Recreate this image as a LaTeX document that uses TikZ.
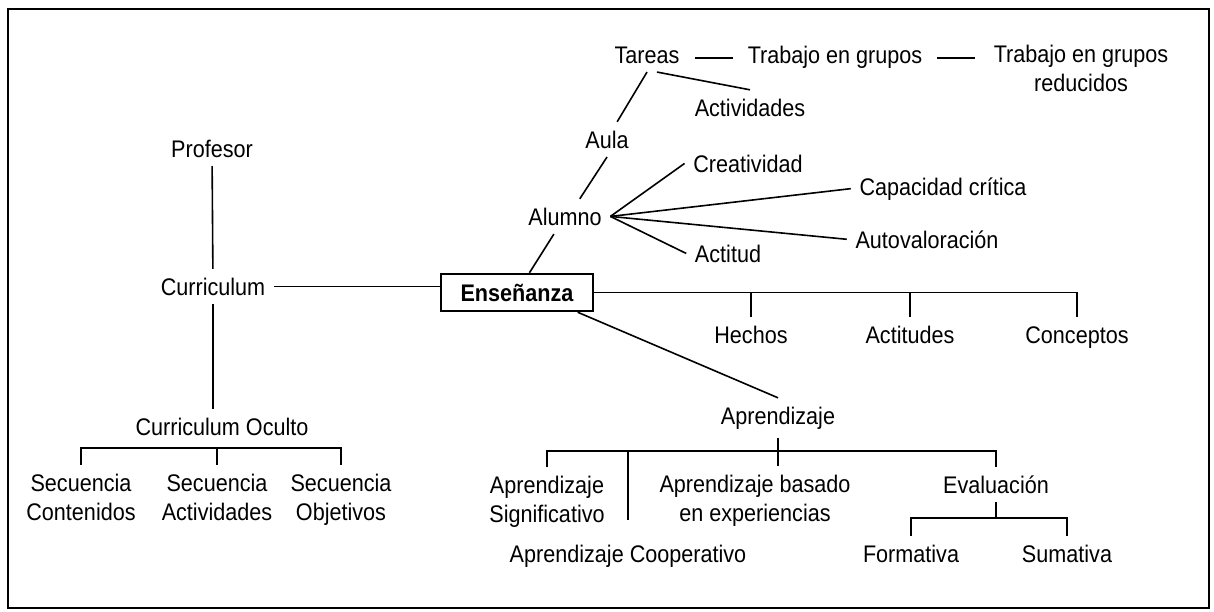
\documentclass[tikz,border=0pt]{standalone}
\usepackage{fontspec}
\setmainfont{Liberation Sans}[FakeStretch=0.9]
\newcommand{\mapfont}{\fontsize{12}{14.5}\selectfont}

\begin{document}
\begin{tikzpicture}[x=0.5pt, y=-0.5pt, line width=0.8pt,
    every node/.style={font=\mapfont, inner sep=4pt, align=center, anchor=base},
    box/.style={draw, line width=1.2pt, anchor=center, minimum width=76pt, minimum height=18.5pt, font=\mapfont\bfseries}]
        \useasboundingbox (0,0) rectangle (1214,611);
        \draw[line width=1pt] (8,9) rectangle (1209,608);

        \node (prof) at (212,157) {Profesor};
        \node (curr) at (213,295) {Curriculum};
        \node (oculto) at (222,435) {Curriculum Oculto};
        \node (seccont) at (81,520) {Secuencia\\Contenidos};
        \node (secact) at (217,520) {Secuencia\\Actividades};
        \node (secobj) at (341,520) {Secuencia\\Objetivos};

        \node[box] (ens) at (517,292.5) {Enseñanza};
        \node (alumno) at (565,225) {Alumno};
        \node (aula) at (607,148) {Aula};
        \node (tareas) at (647,63) {Tareas};
        \node (trab) at (835,63) {Trabajo en grupos};
        \node (reduc) at (1081,91) {Trabajo en grupos\\reducidos};
        \node (activ) at (750,116) {Actividades};
        \node (creat) at (748,172) {Creatividad};
        \node (capac) at (943,195) {Capacidad crítica};
        \node (autov) at (927,248) {Autovaloración};
        \node (actit) at (728,262) {Actitud};

        \node (hechos) at (751,343) {Hechos};
        \node (actits) at (910,343) {Actitudes};
        \node (concep) at (1077,343) {Conceptos};

        \node (aprend) at (778,424) {Aprendizaje};
        \node (apsig) at (547,522) {Aprendizaje\\Significativo};
        \node (apbas) at (755,521) {Aprendizaje basado\\en experiencias};
        \node (apcoop) at (628,562) {Aprendizaje Cooperativo};
        \node (evalua) at (996,493) {Evaluación};
        \node (format) at (911,562) {Formativa};
        \node (sumat) at (1067,562) {Sumativa};

        \draw (prof) -- (curr);
        \draw (curr.south) -- (curr.south |- oculto.north);
        \draw (curr) -- (curr -| ens.west);
        \coordinate (cobar) at (212,448);
        \draw (seccont.north) |- (cobar) -| (secobj.north);
        \draw (secact.north) -- (secact.north |- cobar);

        \draw (ens) -- (alumno);
        \draw (alumno.50) -- (aula.south);
        \draw (aula.60) -- (tareas.south);
        \draw (tareas.-60) -- (activ.north);
        \draw[shorten <=3.5pt, shorten >=3pt] (tareas.mid east) -- (trab.mid west);
        \draw[shorten <=3pt, shorten >=5pt] (trab.mid east) -- (trab.mid east -| reduc.west);
        \foreach \n in {creat,capac,autov,actit}
            \draw (alumno.east) -- (\n.west);

        \draw (ens.east) -| (concep.north);
        \foreach \n in {hechos,actits}
            \draw (\n.north) -- (\n.north |- ens.east);

        \draw (ens.-18) -- (aprend.north);
        \coordinate (apbar) at (782,451);
        \draw (aprend.south) -- (aprend.south |- apbas.north);
        \draw (apsig.north) |- (apbar) -| (evalua.north);
        \draw[shorten <=8pt] (apcoop.north) -- (apcoop.north |- apbar);
        \coordinate (evbar) at (996,518);
        \draw (evalua.south) -- (evalua.south |- evbar);
        \draw (format.north) |- (evbar) -| (sumat.north);
    \end{tikzpicture}
\end{document}
